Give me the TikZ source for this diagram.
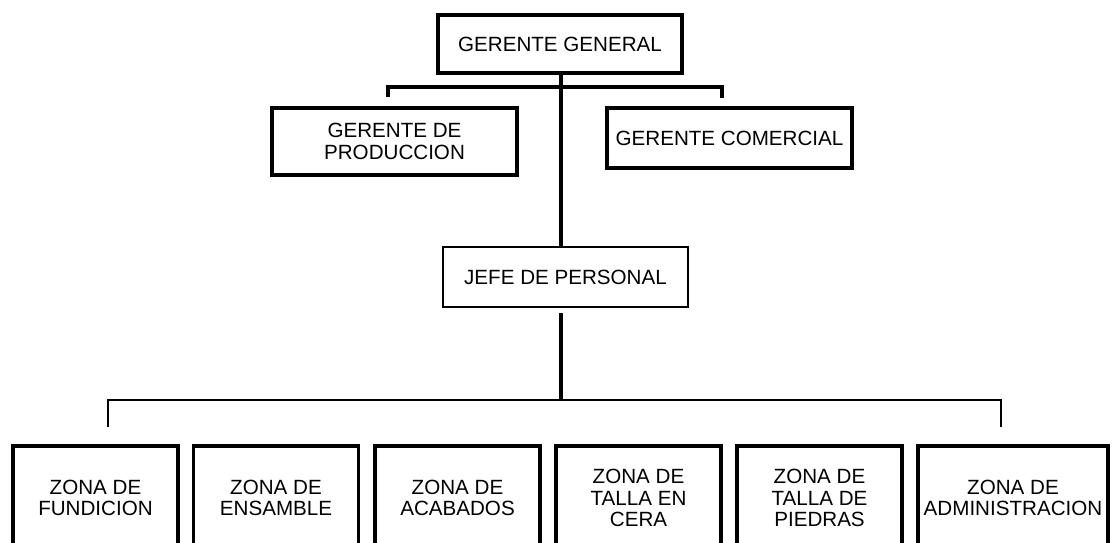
\documentclass[tikz,border=0pt]{standalone}
\usepackage{fontspec}
\setmainfont{Liberation Sans}
\usepackage{tikz}
\usetikzlibrary{positioning}

\begin{document}
\begin{tikzpicture}[x=0.5pt,y=-0.5pt]
\tikzstyle{every node}+=[inner sep=0pt,align=center,font=\fontsize{10.3}{10.8}\selectfont]
\tikzstyle{cargo}=[draw=black,line width=1.9pt,minimum width=122.5pt]
\tikzstyle{zona}=[draw=black,line width=1.9pt,minimum width=82.5pt,minimum height=52pt]
\tikzstyle{linea}=[black,line width=1.7pt]
\clip (0,0) rectangle (1117,542);
% gerencia
\node [cargo,minimum width=122pt,minimum height=29pt] (gg) at (560,44) {GERENTE GENERAL};
\node [cargo,minimum height=33.5pt] (gp) at (394.5,141.5) {GERENTE DE\\PRODUCCION};
\node [cargo,minimum height=30pt] (gc) at (729.5,138) {GERENTE COMERCIAL};
\node [cargo,line width=1.3pt,minimum height=30pt] (jp) at (565.5,277) {JEFE DE PERSONAL};
% zonas
\node [zona] (z1) at (95.5,498) {ZONA DE\\FUNDICION};
\node [zona] (z2) at (276,498) {ZONA DE\\ENSAMBLE};
\node [zona] (z3) at (457.5,498) {ZONA DE\\ACABADOS};
\node [zona] (z4) at (638.5,498) {ZONA DE\\TALLA EN\\CERA};
\node [zona] (z5) at (819.5,498) {ZONA DE\\TALLA DE\\PIEDRAS};
\node [zona,minimum width=95pt] (z6) at (1013,498) {ZONA DE\\ADMINISTRACION};
% lineas
\coordinate (bgp) at (388,97);
\coordinate (bgc) at (722,98);
\coordinate (tjp) at (561,87);
\coordinate (sjp) at (561,313);
\coordinate (bz) at (561,400);
\coordinate (bz1) at (108,427);
\coordinate (bz6) at (1001,427);
\draw [linea] (gg.south -| tjp) -- (tjp |- jp.north);
\draw [linea] (bgp) |- (tjp) -| (bgc);
\draw [linea] (sjp) -- (bz);
\draw [linea,line width=1.4pt] (bz1) |- (bz) -| (bz6);
\end{tikzpicture}
\end{document}
